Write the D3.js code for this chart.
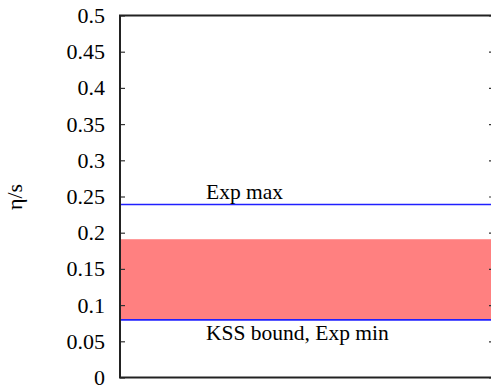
<!DOCTYPE html>
<html>
<head>
<meta charset="utf-8">
<script src="https://cdn.jsdelivr.net/npm/d3@7"></script>
<style>
  html, body { margin: 0; padding: 0; background: #fff; }
</style>
</head>
<body>
<script>
// Viscosity-to-entropy ratio: allowed band and reference levels
const yTickValues = [0, 0.05, 0.1, 0.15, 0.2, 0.25, 0.3, 0.35, 0.4, 0.45, 0.5];
const yTickLabels = ["0", "0.05", "0.1", "0.15", "0.2", "0.25", "0.3", "0.35", "0.4", "0.45", "0.5"];
const bandLow = [1 / (4 * Math.PI)];
const bandHigh = [0.191];
const refNames = ["KSS bound, Exp min", "Exp max"];
const refValues = [1 / (4 * Math.PI), 0.239];

const W = 491, H = 386;
const margin = { left: 120, right: -3, top: 15.5, bottom: 8.5 };
const serif = '"Liberation Serif", "Times New Roman", Times, serif';

const svg = d3.select("body").append("svg")
  .attr("width", W).attr("height", H);

const x = d3.scaleLinear().domain([0, 1]).range([margin.left, W - margin.right]);
const y = d3.scaleLinear().domain([0, 0.5]).range([H - margin.bottom, margin.top]);

// shaded band
svg.append("g").selectAll("rect")
  .data(bandLow.map((lo, i) => ({ lo, hi: bandHigh[i] })))
  .join("rect")
  .attr("x", x(0)).attr("width", x(1) - x(0))
  .attr("y", d => y(d.hi)).attr("height", d => y(d.lo) - y(d.hi))
  .attr("fill", "#ff8080");

// reference lines
svg.append("g").selectAll("line")
  .data(refValues)
  .join("line")
  .attr("x1", x(0)).attr("x2", x(1))
  .attr("y1", d => y(d)).attr("y2", d => y(d))
  .attr("stroke", "#2020ff").attr("stroke-width", 1.6);

// reference labels
svg.append("g").selectAll("text")
  .data(refNames.map((n, i) => ({ n, v: refValues[i], above: i === 1 })))
  .join("text")
  .attr("x", 206)
  .attr("y", d => d.above ? y(d.v) - 5 : y(d.v) + 20)
  .style("font-family", serif)
  .style("font-size", "21.5px")
  .attr("fill", "#000")
  .text(d => d.n);

// inward tick marks on both sides
const gl = svg.append("g").attr("transform", `translate(${x(0)},0)`)
  .call(d3.axisLeft(y).tickValues(yTickValues).tickSize(-5).tickFormat(""));
gl.select(".domain").remove();
gl.selectAll(".tick line").attr("stroke", "#333").attr("stroke-width", 1.2);

const gr = svg.append("g").attr("transform", `translate(${x(1)},0)`)
  .call(d3.axisRight(y).tickValues(yTickValues).tickSize(-5).tickFormat(""));
gr.select(".domain").remove();
gr.selectAll(".tick line").attr("stroke", "#333").attr("stroke-width", 1.2);

// tick labels
svg.append("g").selectAll("text")
  .data(yTickValues.map((v, i) => ({ v, t: yTickLabels[i] })))
  .join("text")
  .attr("x", x(0) - 15)
  .attr("y", d => y(d.v))
  .attr("dy", "0.34em")
  .attr("text-anchor", "end")
  .style("font-family", serif)
  .style("font-size", "22px")
  .attr("fill", "#000")
  .text(d => d.t);

// frame
svg.append("rect")
  .attr("x", x(0)).attr("y", y(0.5))
  .attr("width", x(1) - x(0)).attr("height", y(0) - y(0.5))
  .attr("fill", "none").attr("stroke", "#222").attr("stroke-width", 2);

// y-axis title
svg.append("text")
  .attr("transform", `translate(22,197) rotate(-90)`)
  .attr("text-anchor", "middle")
  .style("font-family", serif)
  .style("font-size", "22px")
  .text("η/s");
</script>
</body>
</html>
